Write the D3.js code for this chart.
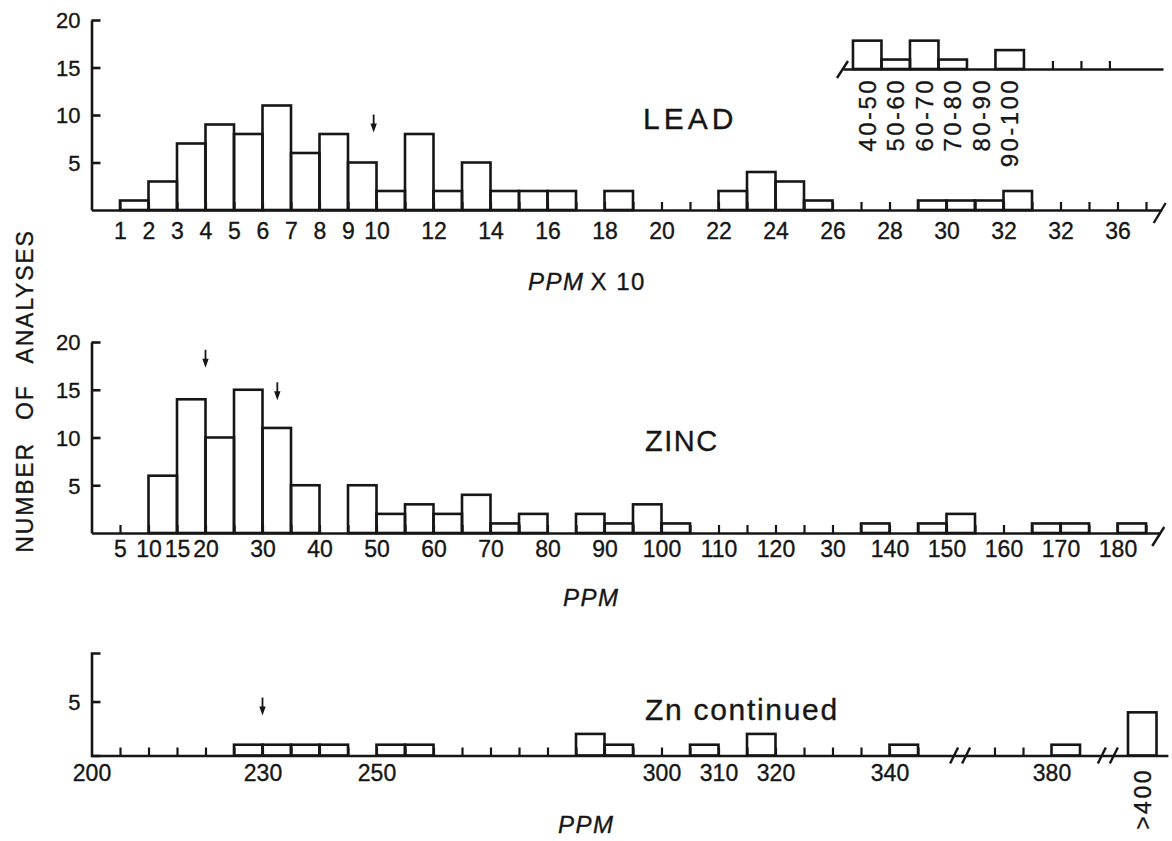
<!DOCTYPE html>
<html>
<head>
<meta charset="utf-8">
<script src="https://cdn.jsdelivr.net/npm/d3@7"></script>
<style>
  html, body { margin: 0; padding: 0; background: #fff; }
  svg { display: block; }
</style>
</head>
<body>
<svg id="chart" width="1172" height="841"></svg>
<script>
// ---------- Lead (class k = k x 10 ppm) ----------
const leadBins   = [1,2,3,4,5,6,7,8,9,10,11,12,13,14,15,16,17,18,19,20,21,22,23,24,25,26,27,28,29,30,31,32];
const leadCounts = [1,3,7,9,8,11,6,8,5,2,8,2,5,2,2,2,0,2,0,0,0,2,4,3,1,0,0,0,1,1,1,2];
const leadTickValues = [1,2,3,4,5,6,7,8,9,10,12,14,16,18,20,22,24,26,28,30,32,34,36];
const leadTickLabels = ["1","2","3","4","5","6","7","8","9","10","12","14","16","18","20","22","24","26","28","30","32","32","36"];
const leadYTicks = [5,10,15,20];
const leadArrow = [9.9, 8.15];           // [class, count level of arrow tip]

// high lead classes (x 10 ppm), drawn as an inset
const leadHighBins   = [40,50,60,70,80,90];
const leadHighLabels = ["40-50","50-60","60-70","70-80","80-90","90-100"];
const leadHighCounts = [3,1,3,1,0,2];
const leadHighTicks  = [110,120,130];

// ---------- Zinc, ppm ----------
const zincBins   = [10,15,20,25,30,35,40,45,50,55,60,65,70,75,80,85,90,95,100,105,110,115,120,125,130,135,140,145,150,155,160,165,170,175,180];
const zincCounts = [6,14,10,15,11,5,0,5,2,3,2,4,1,2,0,2,1,3,1,0,0,0,0,0,0,1,0,1,2,0,0,1,1,0,1];
const zincTickValues = [5,10,15,20,30,40,50,60,70,80,90,100,110,120,130,140,150,160,170,180];
const zincTickLabels = ["5","10","15","20","30","40","50","60","70","80","90","100","110","120","30","140","150","160","170","180"];
const zincYTicks = [5,10,15,20];
const zincArrows = [[20, 17.3], [32.6, 13.9]];

// ---------- Zinc continued, ppm ----------
const zinc2Bins   = [225,230,235,240,250,255,285,290,305,315,340,380,400];
const zinc2Counts = [1,1,1,1,1,1,2,1,1,2,1,1,4];
const zinc2TickValues = [200,230,250,300,310,320,340,380];
const zinc2TickLabels = ["200","230","250","300","310","320","340","380"];
const zinc2TopLabel = ">400";
const zinc2YTicks = [5];
const zinc2Arrow = [230, 3.7];
const zinc2Breaks = [358, 393];

// ---------- drawing ----------
const INK = "#161616";
const SW = 2.6;
const FONT = '"Liberation Sans", Arial, sans-serif';
const svg = d3.select("#chart");

function bars(g, x, y, bins, counts, width) {
  const data = bins.map((b, i) => ({ b, c: counts[i] })).filter(d => d.c > 0);
  g.append("g").selectAll("rect").data(data).join("rect")
    .attr("x", d => x(d.b))
    .attr("width", d => x(d.b + width) - x(d.b))
    .attr("y", d => y(d.c))
    .attr("height", d => y(0) - y(d.c))
    .attr("fill", "none")
    .attr("stroke", INK)
    .attr("stroke-width", SW)
    .attr("stroke-linejoin", "miter");
}

function styleAxis(sel, size) {
  sel.selectAll("path, line").attr("stroke", INK).attr("stroke-width", SW);
  sel.selectAll("text").attr("fill", INK).attr("font-size", size).attr("font-family", FONT)
    .attr("stroke", INK).attr("stroke-width", 0.35);
}

function xTicks(g, x, baseY, ticks) {
  const a = g.append("g").attr("transform", `translate(0,${baseY})`)
    .call(d3.axisBottom(x).tickValues(ticks).tickSizeInner(-8).tickSizeOuter(0).tickFormat(""));
  styleAxis(a, 0);
  a.selectAll("line").attr("stroke-width", 2.2);
}

function xLabels(g, x, baseY, values, labels, pad, size) {
  const lab = new Map(values.map((v, i) => [v, labels[i]]));
  const a = g.append("g").attr("transform", `translate(0,${baseY})`)
    .call(d3.axisBottom(x).tickValues(values).tickSize(0).tickPadding(pad).tickFormat(d => lab.get(d)));
  a.select(".domain").remove();
  styleAxis(a, size);
}

function yAxis(g, y, x0, ticks, outer) {
  const a = g.append("g").attr("transform", `translate(${x0},0)`)
    .call(d3.axisLeft(y).tickValues(ticks).tickSizeInner(-9).tickSizeOuter(outer).tickPadding(11));
  styleAxis(a, 22);
  a.selectAll("text").attr("dy", "0.36em");
}

function slash(g, x, y, x1, y1, x2, y2) {
  g.append("path")
    .attr("d", `M${x + x1},${y + y1}L${x + x2},${y + y2}`)
    .attr("stroke", INK).attr("stroke-width", 2.4).attr("fill", "none");
}

function arrow(g, px, py) {
  const len = 18;
  g.append("line").attr("x1", px).attr("x2", px).attr("y1", py - len).attr("y2", py - 5)
    .attr("stroke", INK).attr("stroke-width", 1.8);
  g.append("path").attr("d", `M${px - 3.2},${py - 9}L${px + 3.2},${py - 9}L${px},${py}Z`).attr("fill", INK);
}

function textStyle(t, size, ls) {
  return t.attr("font-family", FONT).attr("font-size", size).attr("letter-spacing", ls)
    .attr("fill", INK).attr("stroke", INK).attr("stroke-width", 0.35);
}

function title(g, x, y, txt, size, ls) {
  textStyle(g.append("text").attr("x", x).attr("y", y).text(txt), size, ls);
}

function ppmLabel(g, x, y, extra) {
  const t = textStyle(g.append("text").attr("x", x).attr("y", y), 24, 1.5);
  t.append("tspan").attr("font-style", "italic").text("PPM");
  if (extra) t.append("tspan").attr("dx", 6).text(extra);
}

// ----- Lead panel -----
const gLead = svg.append("g");
const xLead = d3.scaleLinear().domain([0, 37.55]).range([91.5, 91.5 + 37.55 * 28.5]);
const yLead = d3.scaleLinear().domain([0, 20]).range([210, 20]);
bars(gLead, xLead, yLead, leadBins, leadCounts, 1);
xTicks(gLead, xLead, yLead(0), d3.range(1, 38));
xLabels(gLead, xLead, yLead(0), leadTickValues, leadTickLabels, 13, 23);
yAxis(gLead, yLead, 91.5, leadYTicks, 0);
slash(gLead, xLead(37.55), yLead(0), -8, 13, 4, -7);
arrow(gLead, xLead(leadArrow[0]), yLead(leadArrow[1]));
title(gLead, 643, 129, "LEAD", 30, 4);
ppmLabel(gLead, 528, 290, "X 10");

// inset of high lead classes
const xHigh = d3.scaleLinear().domain([36.5, 148.8]).range([843, 1163]);
const yHigh = d3.scaleLinear().domain([0, 5]).range([69, 69 - 5 * 9.45]);
bars(gLead, xHigh, yHigh, leadHighBins, leadHighCounts, 10);
xTicks(gLead, xHigh, yHigh(0), leadHighTicks);
slash(gLead, xHigh(36.5), yHigh(0), -6, 9, 5, -8);
textStyle(gLead.append("g").selectAll("text").data(leadHighBins).join("text")
  .attr("transform", d => `translate(${xHigh(d + 5) + 8.5},78) rotate(-90)`)
  .attr("text-anchor", "end"), 24, 2.4)
  .text((d, i) => leadHighLabels[i]);

// ----- Zinc panel -----
const gZinc = svg.append("g");
const xZinc = d3.scaleLinear().domain([0, 187.5]).range([91.5, 91.5 + 187.5 * 5.7]);
const yZinc = d3.scaleLinear().domain([0, 20]).range([533, 342]);
bars(gZinc, xZinc, yZinc, zincBins, zincCounts, 5);
xTicks(gZinc, xZinc, yZinc(0), d3.range(5, 186, 5));
xLabels(gZinc, xZinc, yZinc(0), zincTickValues, zincTickLabels, 8, 23);
yAxis(gZinc, yZinc, 91.5, zincYTicks, 0);
slash(gZinc, xZinc(187.5), yZinc(0), -8, 13, 4, -6);
zincArrows.forEach(a => arrow(gZinc, xZinc(a[0]), yZinc(a[1])));
title(gZinc, 645, 451, "ZINC", 29, 1.5);
ppmLabel(gZinc, 563, 606);

// ----- Zinc continued panel (broken axis) -----
const gZ2 = svg.append("g");
const xZ2 = d3.scaleLinear()
  .domain([200, 352, 364, 389, 397, 407])
  .range([91.5, 957.9, 960.3, 1102.8, 1110.9, 1167.9]);
const yZ2 = d3.scaleLinear().domain([0, 9.5]).range([755.5, 653]);
bars(gZ2, xZ2, yZ2, zinc2Bins, zinc2Counts, 5);
xTicks(gZ2, xZ2, yZ2(0), d3.range(205, 350, 5).concat([370, 375]));
xLabels(gZ2, xZ2, yZ2(0), zinc2TickValues, zinc2TickLabels, 9, 23);
yAxis(gZ2, yZ2, 91.5, zinc2YTicks, -9);
zinc2Breaks.forEach(b => {
  const bx = xZ2(b), by = yZ2(0);
  slash(gZ2, bx - 5, by, -4, 8, 4, -8);
  slash(gZ2, bx + 7, by, -4, 8, 4, -8);
});
arrow(gZ2, xZ2(zinc2Arrow[0]), yZ2(zinc2Arrow[1]));
textStyle(gZ2.append("text")
  .attr("transform", `translate(${xZ2(402.5) + 8.5},768) rotate(-90)`)
  .attr("text-anchor", "end"), 23, 2.5)
  .text(zinc2TopLabel);
title(gZ2, 645, 720, "Zn continued", 30, 1.7);
ppmLabel(gZ2, 558, 833);

// ----- shared y title -----
textStyle(svg.append("text")
  .attr("transform", "translate(33,391) rotate(-90)")
  .attr("text-anchor", "middle"), 23, 1.8)
  .attr("word-spacing", 14)
  .text("NUMBER OF ANALYSES");
</script>
</body>
</html>
